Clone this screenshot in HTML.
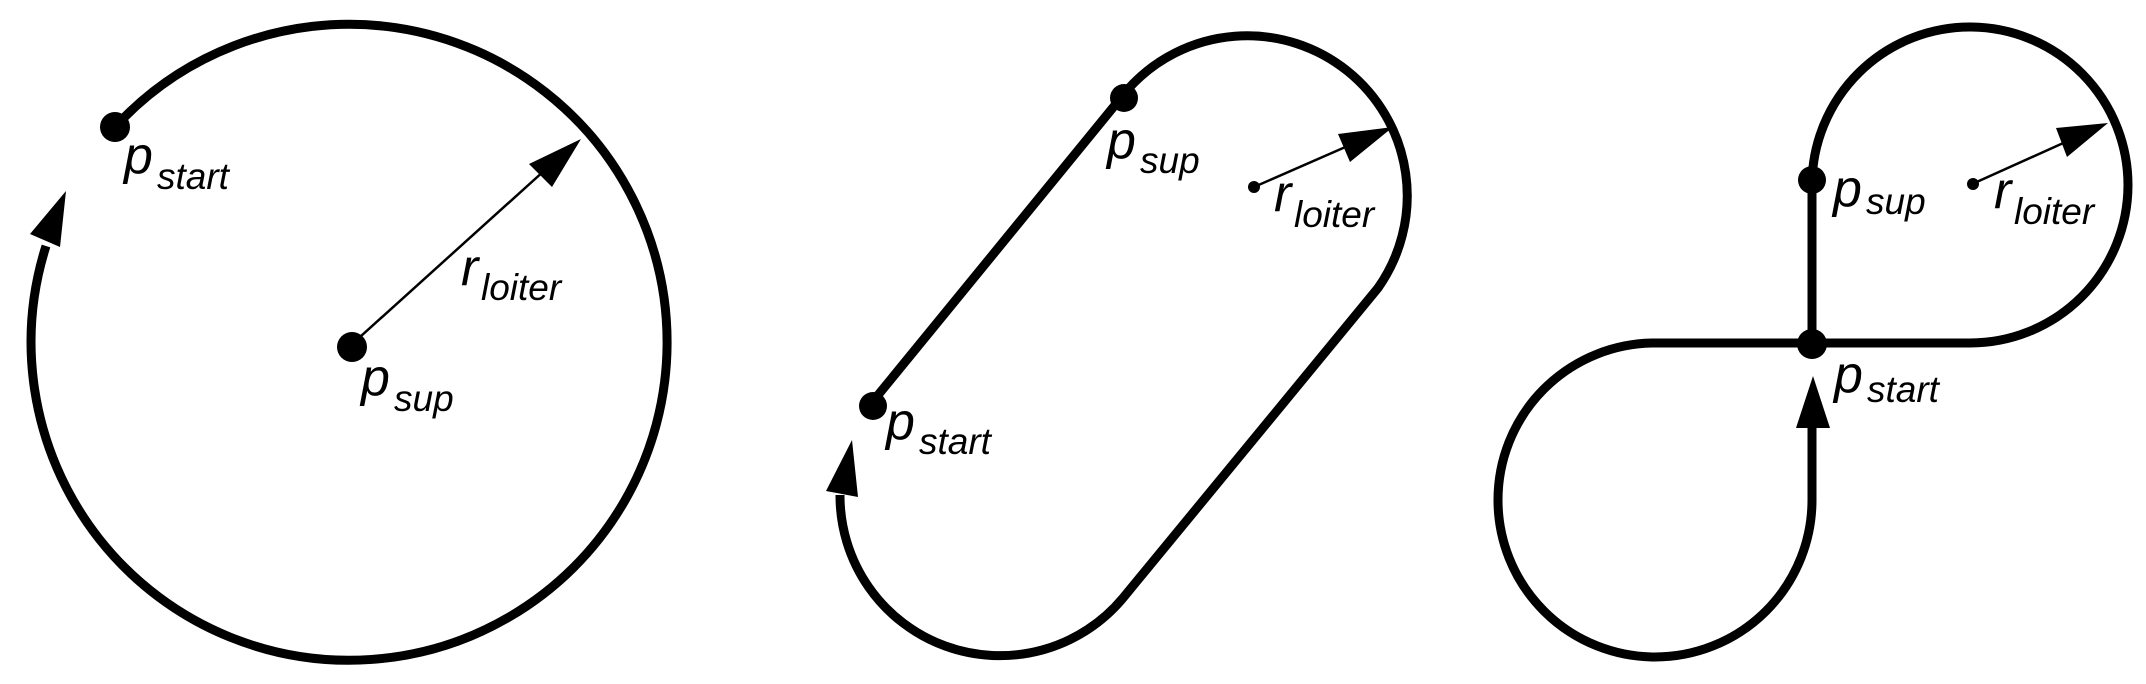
<!DOCTYPE html>
<html><head><meta charset="utf-8"><style>
html,body{margin:0;padding:0;background:#fff;}
svg{display:block;}
text{font-family:"Liberation Sans",Arial,sans-serif;font-style:italic;fill:#000;}
.m{font-size:52px;}
.s{font-size:37px;}
</style></head><body>
<svg width="2146" height="684" viewBox="0 0 2146 684" xmlns="http://www.w3.org/2000/svg">
<g fill="none" stroke="#000" stroke-width="9" stroke-linecap="butt">
  <path d="M115,127 A318,318 0 1 1 46,246"/>
  <path d="M874,400 L1129,88 A160,160 0 0 1 1378,288 L1123,598 A160,160 0 0 1 840,495"/>
  <path d="M1812,183 A158,158 0 1 1 1970,343 L1655,343 A157,157 0 1 0 1812,500 L1812,426"/>
  <path d="M1812,183 L1812,343"/>
</g>
<g stroke="#000" stroke-width="2.5">
  <line x1="350" y1="346" x2="545" y2="170"/>
  <line x1="1254" y1="187" x2="1350" y2="145"/>
  <line x1="1970" y1="185" x2="2070" y2="140"/>
</g>
<g fill="#000">
  <polygon points="66,191 30,234 60,247"/>
  <polygon points="581,139 529,164 552,187"/>
  <polygon points="852,440 826,491 858,497"/>
  <polygon points="1393,127 1338,134 1350,162"/>
  <polygon points="1813,376 1796,428 1830,428"/>
  <polygon points="2108,123 2056,128 2067,157"/>
  <circle cx="115" cy="127" r="15"/>
  <circle cx="352" cy="347" r="15"/>
  <circle cx="1124" cy="98" r="14"/>
  <circle cx="873" cy="406" r="14"/>
  <circle cx="1254" cy="187" r="6"/>
  <circle cx="1812" cy="180" r="14"/>
  <circle cx="1812" cy="344" r="15"/>
  <circle cx="1973" cy="184" r="6"/>
</g>
<text x="124" y="173" class="m">p</text><text x="157" y="189" class="s">start</text>
<text x="361" y="395" class="m">p</text><text x="394" y="411" class="s">sup</text>
<text x="461" y="285" class="m">r</text><text x="481" y="300" class="s">loiter</text>

<text x="1107" y="158" class="m">p</text><text x="1140" y="173" class="s">sup</text>
<text x="886" y="439" class="m">p</text><text x="919" y="454" class="s">start</text>
<text x="1274" y="211" class="m">r</text><text x="1294" y="227" class="s">loiter</text>

<text x="1833" y="206" class="m">p</text><text x="1866" y="214" class="s">sup</text>
<text x="1834" y="392" class="m">p</text><text x="1867" y="402" class="s">start</text>
<text x="1994" y="208" class="m">r</text><text x="2014" y="224" class="s">loiter</text>
</svg>
</body></html>
